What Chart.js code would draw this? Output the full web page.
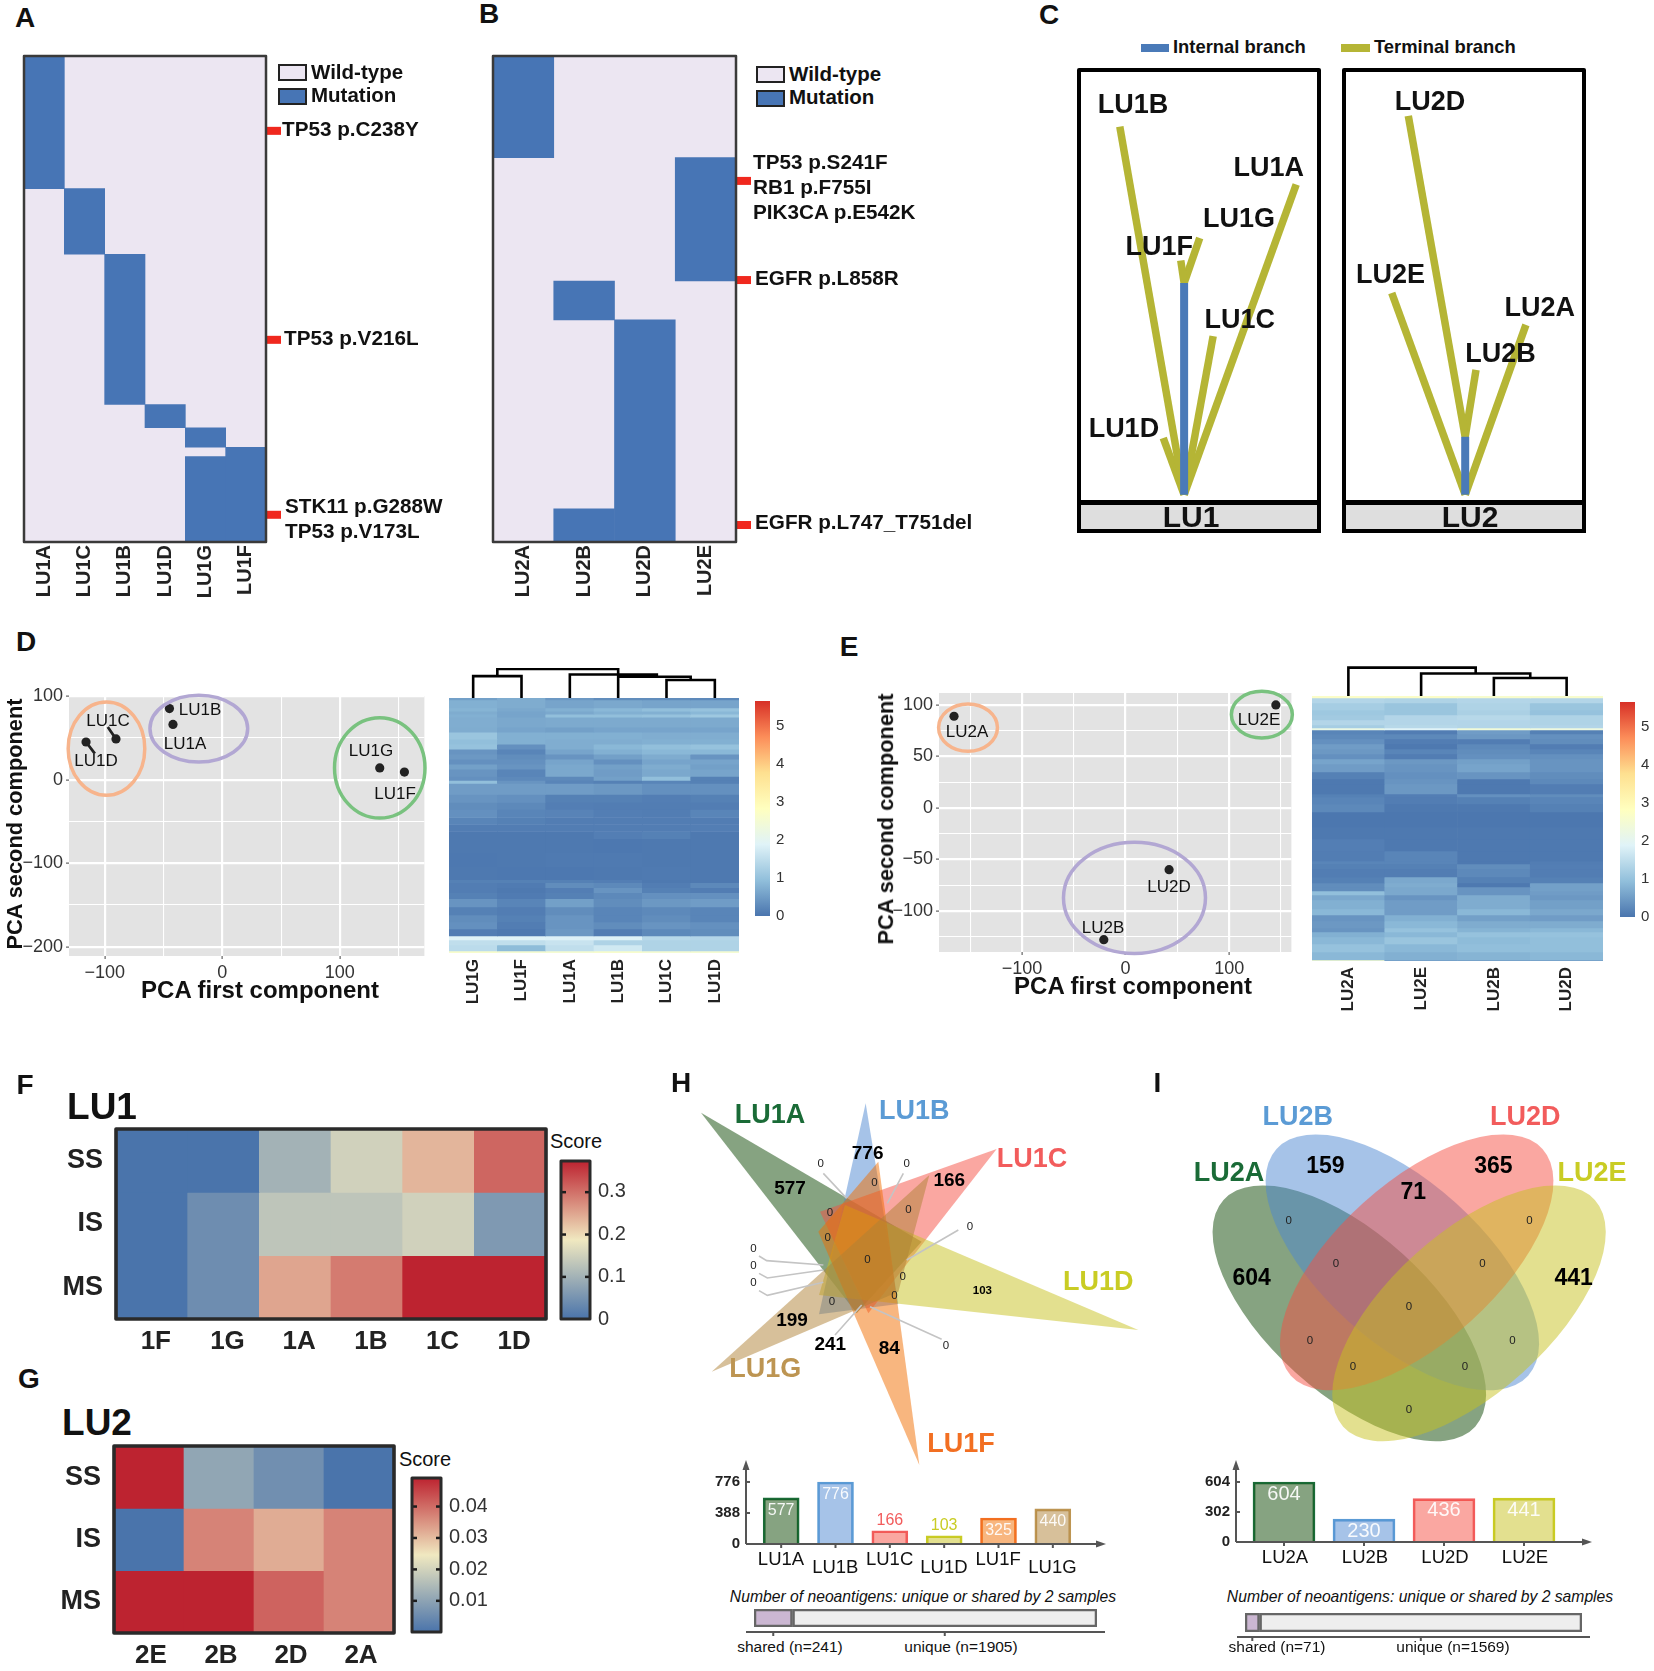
<!DOCTYPE html>
<html>
<head>
<meta charset="utf-8">
<title>Neoantigen panels</title>
<script src="https://cdn.jsdelivr.net/npm/chart.js@4/dist/chart.umd.js"></script>
<style>
  html, body { margin: 0; padding: 0; background: #fff; }
  #page { position: relative; width: 1654px; height: 1671px; overflow: hidden; font-family: "Liberation Sans", Arial, sans-serif; color: #111; }
  #page canvas { position: absolute; display: block; }
  .t { position: absolute; white-space: nowrap; line-height: 1; }
  .box { position: absolute; box-sizing: border-box; }
</style>
</head>
<body>
<div id="page"></div>
<script>
// ---------- data ----------
// A and B: mutation blocks, y is position in the mutation list (0 to 100)
const samplesA = ['LU1A', 'LU1C', 'LU1B', 'LU1D', 'LU1G', 'LU1F'];
const blocksA = [[0, 27.3], [27.3, 40.8], [40.8, 71.7], [71.7, 76.5], [76.5, 80.5], [80.5, 100]];
const blocksA2 = [null, null, null, null, [82.4, 100], null];
const markersA = [15.4, 58.4, 94.4];
const samplesB = ['LU2A', 'LU2B', 'LU2D', 'LU2E'];
const blocksB = [[0, 20.9], [46.3, 54.3], [54.3, 100], [20.9, 46.3]];
const blocksB2 = [null, [93.2, 100], null, null];
const markersB = [25.7, 46.1, 96.5];

// C: branches, x and y in percent of each box
const trunk1 = [[43.8, 1.7], [43.8, 50.7]];
const tips1 = [[17, 86.9], [35.1, 14.8], [90.5, 73.5], [55.9, 38.4]];
const tips1b = [[42.4, 55.9], [50.3, 61.1]];
const trunk2 = [[50.5, 1.7], [50.5, 15.1]];
const tips2 = [[19.9, 48.4], [75.8, 41]];
const tips2b = [[26.8, 89.4], [55, 30.6]];

// D and E: PCA
const pcaDx = [-45, -42, -90.5, -116, 134, 155];
const pcaDy = [85, 66, 48.6, 45, 14, 9];
const leadersD = [[-97.5, 63], [-90.5, 48.6], null, [-116, 45], [-108.5, 31]];
const ringsD = [[-98.6, 37, 32.6, 55.8, '#f7b48c'], [-20, 61, 41.6, 40, '#b2a7d3'], [134, 14, 38.5, 60, '#79c27f']];
const pcaEx = [-165.5, 145, 42, -21];
const pcaEy = [89, 100, -60, -128];
const ringsE = [[-152, 78, 28.4, 23, '#f7b48c'], [131.5, 90.6, 29.4, 22.6, '#79c27f'], [8.6, -87.4, 68.5, 54, '#b2a7d3']];
const gridDx = [-150, -100, -50, 0, 50, 100, 150];
const gridDy = [-200, -150, -100, -50, 0, 50, 100];
const gridEx = [-150, -100, -50, 0, 50, 100, 150];
const gridEy = [-125, -100, -75, -50, -25, 0, 25, 50, 75, 100];

// D and E: expression heatmaps, one row per band: height, then a value per sample
const heatNamesD = ['LU1G', 'LU1F', 'LU1A', 'LU1B', 'LU1C', 'LU1D'];
const heatBandsD = [
  [2, .55, .7, .45, .3, .3, .25], [8, .75, .7, .6, .65, .6, .6], [3, .8, .65, .75, .85, .95, 1], [3, .7, .6, .65, .75, .75, .85],
  [3, .75, .6, .95, .95, 1, 1.1], [10, .72, .65, .68, .68, .68, .68], [5, .7, .6, .55, .6, .6, .6], [7, 1.05, .75, .75, .75, .72, .72],
  [5, .95, .75, .72, .72, .75, .75], [5, 1, .35, .72, .85, .95, 1], [5, .4, .2, .6, .75, .85, .85], [5, .45, .3, .4, .55, .7, .4],
  [5, .35, .35, .6, .35, .6, .6], [5, .55, .4, .65, .55, .7, .55], [7, .4, .2, .65, .5, .65, .6], [4, .35, .25, .25, .55, .95, .15],
  [3, .95, .4, .2, .15, .2, .15], [11, .5, .5, .5, .45, .35, .35], [8, .4, .35, .15, .15, .12, .15], [7, .3, .25, .12, .1, .1, .1],
  [8, .35, .2, .18, .12, .1, .2], [7, .2, .15, .1, .1, .1, .1], [7, .1, .1, .1, .1, .1, .12], [7, .05, .05, .05, .12, .15, .05],
  [14, .05, .05, .05, .04, .05, .05], [14, .04, .05, .06, .07, .05, .05], [13, .05, .04, .04, .05, .06, .05], [3, .15, .15, .15, .12, .05, .05],
  [5, .1, .08, .3, .25, .1, .25], [5, .1, .05, .12, .4, .15, .1], [6, .15, .08, .15, .25, .35, .35], [8, .4, .2, .55, .3, .45, .5],
  [8, .15, .1, .3, .2, .25, .2], [7, .3, .15, .4, .2, .3, .2], [7, .35, .1, .4, .3, .4, .35], [7, .1, .05, .45, .1, .25, .3],
  [4, 1.9, 1.9, 1.85, 1.85, 1.4, 1.35], [5, 1.5, 1.5, 1.6, 1.3, 1.3, 1.3], [6, 1.45, .9, 1.5, 1.7, 1.3, 1.3], [2, 2.6, 2.5, 2.5, 2.6, 2.5, 2.5]
];
const heatNamesE = ['LU2A', 'LU2E', 'LU2B', 'LU2D'];
const heatBandsE = [
  [2, 2.7, 2.7, 2.6, 2.6], [5, 1.35, 1.3, 1.35, 1.35], [7, 1.2, 1.05, 1.3, 1.05], [5, 1.1, 1.05, 1.25, 1], [5, 1.15, 1.35, 1.4, 1.3],
  [5, 1.35, 1.35, 1.35, 1.3], [3, 1.2, 1.4, 1.35, 1.35], [2, 2.2, 1.9, 2.4, 2.3], [4, .2, .1, .5, .15], [5, .25, .25, .45, .35],
  [5, .35, .1, .1, .3], [5, .5, .05, .25, .1], [5, .45, .2, .3, .2], [5, .35, .1, .35, .35], [5, .6, .45, .55, .4], [8, .5, .4, .6, .4],
  [7, .15, .35, .4, .3], [5, .05, .4, .05, .25], [10, .05, .45, .05, .1], [3, .15, .12, .35, .3], [7, .2, .1, .15, .2], [8, .25, .05, .05, .15],
  [15, .03, .03, .03, .03], [12, .05, .05, .05, .05], [12, .12, .05, .05, .05], [10, .1, .2, .05, .05], [3, .2, .2, .05, .1], [5, .15, .15, .3, .12],
  [8, .1, .1, .25, .1], [6, .15, .65, .15, .15], [4, .3, .7, .05, .55], [4, .3, .65, .4, .55], [4, .95, .65, .4, .5], [5, .65, .4, .7, .45],
  [9, .75, .5, .7, .55], [6, .85, .5, .85, .65], [6, .4, .75, .55, .5], [7, .45, .85, .7, .7], [4, .4, 1, .8, .85], [5, .75, .85, 1, 1],
  [7, .85, 1.05, .9, .95], [8, 1, .85, .95, .95], [8, .85, .75, .8, .85], [1, 2.6, .5, .5, .5]
];
const heatMax = 5.66;
const heatTicks = [0, 1, 2, 3, 4, 5];
const heatStops = ['#4a75ae', '#91bfdb', '#e0f3f8', '#ffffbf', '#fee090', '#fc8d59', '#d73027'];

// dendrograms, x in columns and y in height; null breaks the line
const dendroD = [[.5, 0], [.5, 22.6], [1.5, 22.6], [1.5, 0], null, [2.5, 0], [2.5, 24.3], [3.5, 24.3], [3.5, 0], null, [4.5, 0], [4.5, 18.6], [5.5, 18.6], [5.5, 0], null,
  [3.5, 24.3], [4.3, 24.3], null, [3.5, 22], [5, 22], [5, 18.6], null, [1, 22.6], [1, 30], [3.5, 30], [3.5, 24.3]];
const dendroE = [[.5, 0], [.5, 29.3], [2.25, 29.3], [2.25, 23.3], null, [1.5, 0], [1.5, 23.3], [3, 23.3], [3, 18.6], null, [2.5, 0], [2.5, 18.6], [3.5, 18.6], [3.5, 0]];

// F and G: scores
const scoreRows = ['SS', 'IS', 'MS'];
const scoreNamesF = ['1F', '1G', '1A', '1B', '1C', '1D'];
const scoreF = [[0, 0, .1, .15, .235, .31], [0, .04, .13, .13, .15, .06], [0, .04, .25, .29, .373, .373]];
const scoreMaxF = .373;
const scoreTicksF = [0, .1, .2, .3];
const scoreNamesG = ['2E', '2B', '2D', '2A'];
const scoreG = [[.049, .0105, .0058, 0], [0, .037, .032, .037], [.049, .049, .041, .037]];
const scoreMaxG = .049;
const scoreTicksG = [.01, .02, .03, .04];
const scoreStops = ['#4a74ab', '#f0e8c0', '#bd2330'];

// H and I: neoantigen counts
const neoNamesH = ['LU1A', 'LU1B', 'LU1C', 'LU1D', 'LU1F', 'LU1G'];
const neoCountsH = [577, 776, 166, 103, 325, 440];
const neoTicksH = [0, 388, 776];
const neoNamesI = ['LU2A', 'LU2B', 'LU2D', 'LU2E'];
const neoCountsI = [604, 230, 436, 441];
const neoTicksI = [0, 302, 604];
const sharedH = 241, uniqueH = 1905;
const sharedI = 71, uniqueI = 1569;

// Venn shapes, in the units of the drawing
const trianglesH = [
  [[153, 188], [815, 575], [620, 790]],
  [[647, 160], [745, 762], [507, 793]],
  [[1040, 297], [510, 485], [655, 790]],
  [[1465, 840], [585, 465], [507, 735]],
  [[808, 1245], [685, 335], [505, 545]],
  [[185, 965], [838, 375], [745, 725]]
];
const leadersH = [[520, 370], [590, 445], null, [760, 370], [712, 460], null, [925, 540], [770, 630], null,
  [327, 618], [350, 632], [520, 645], null, [327, 670], [352, 684], [520, 660], null, [327, 722], [352, 736], [520, 697], null,
  [875, 868], [660, 770], null, [555, 855], [635, 765]];
const ellipsesI = [[598, 790, 42], [757, 637, 42], [800, 637, -42], [957, 790, -42]];
const ellipseAxes = [508, 240];
const tintsH = ['rgba(13,72,4,.5)', 'rgba(77,135,209,.5)', 'rgba(245,79,67,.5)', 'rgba(199,193,31,.5)', 'rgba(241,109,0,.5)', 'rgba(175,129,53,.5)'];
const linesH = ['#1a6b37', '#5b9bd5', '#f25c5c', '#c9cc24', '#f26f22', '#bd9552'];
const tintsI = [tintsH[0], tintsH[1], tintsH[2], tintsH[3]];
const linesI = [linesH[0], linesH[1], linesH[2], linesH[3]];

// ---------- helpers ----------
const page = document.getElementById('page');
const FONT = '"Liberation Sans", Arial, sans-serif';
Chart.defaults.font.family = FONT;
Chart.defaults.animation = false;

function txt(s, x, y, size, o) {   // x,y is the text centre unless left is set
  o = o || {};
  const d = document.createElement('div');
  d.className = 't';
  d.textContent = s;
  d.style.left = x + 'px';
  d.style.top = y + 'px';
  d.style.fontSize = size + 'px';
  d.style.fontWeight = o.bold ? 'bold' : 'normal';
  if (o.italic) d.style.fontStyle = 'italic';
  d.style.color = o.color || '#111';
  d.style.transform = (o.left ? 'translateY(-50%)' : 'translate(-50%,-50%)') + (o.rot ? ' rotate(' + o.rot + 'deg)' : '');
  page.appendChild(d);
}
function box(x, y, w, h, css) {
  const d = document.createElement('div');
  d.className = 'box';
  d.style.cssText = 'left:' + x + 'px;top:' + y + 'px;width:' + w + 'px;height:' + h + 'px;' + css;
  page.appendChild(d);
}
function hidden(extra) {
  return Object.assign({ ticks: { display: false }, grid: { display: false }, border: { display: false } }, extra);
}
// makes a chart whose plot area lands exactly on rect; m is the room kept round it for labels
function plot(rect, m, type, datasets, xAxis, yAxis, pluginOpts, extra) {
  const c = document.createElement('canvas');
  const w = rect[2] + m.l + m.r, h = rect[3] + m.t + m.b;
  c.width = w; c.height = h;
  c.style.left = (rect[0] - m.l) + 'px';
  c.style.top = (rect[1] - m.t) + 'px';
  c.style.width = w + 'px';
  c.style.height = h + 'px';
  page.appendChild(c);
  const yRight = yAxis.position === 'right';
  xAxis.afterFit = s => { s.height = m.b; s.paddingLeft = s.paddingRight = s.paddingTop = s.paddingBottom = 0; };
  yAxis.afterFit = s => { s.width = yRight ? m.r : m.l; s.paddingLeft = s.paddingRight = s.paddingTop = s.paddingBottom = 0; };
  return new Chart(c, {
    type: type,
    data: { labels: (extra && extra.labels) || undefined, datasets: datasets },
    options: Object.assign({
      responsive: false,
      devicePixelRatio: 1,
      layout: { padding: { top: m.t, right: yRight ? 0 : m.r, left: yRight ? m.l : 0, bottom: 0 } },
      scales: { x: xAxis, y: yAxis },
      plugins: Object.assign({ legend: { display: false }, tooltip: { enabled: false } }, pluginOpts)
    }, extra && extra.options)
  });
}
function toPts(list) {
  return list.map(p => p ? { x: p[0], y: p[1] } : { x: null, y: null });
}
function lineSet(list, color, width, more) {
  return Object.assign({ type: 'scatter', data: toPts(list), showLine: true, pointRadius: 0, borderColor: color, borderWidth: width, fill: false, tension: 0 }, more);
}
function hex(c) { return [parseInt(c.slice(1, 3), 16), parseInt(c.slice(3, 5), 16), parseInt(c.slice(5, 7), 16)]; }
function ramp(stops, t) {
  t = Math.max(0, Math.min(1, t)) * (stops.length - 1);
  const i = Math.min(Math.floor(t), stops.length - 2), f = t - i;
  const a = hex(stops[i]), b = hex(stops[i + 1]);
  return 'rgb(' + a.map((v, k) => Math.round(v + (b[k] - v) * f)).join(',') + ')';
}
function gradientFill(stops) {
  return ctx => {
    const a = ctx.chart.chartArea;
    if (!a) return stops[0];
    const g = ctx.chart.ctx.createLinearGradient(0, a.bottom, 0, a.top);
    stops.forEach((s, i) => g.addColorStop(i / (stops.length - 1), s));
    return g;
  };
}

// plot background, frame, side markers, little stubs on colour bars
Chart.register({
  id: 'paintArea',
  beforeDraw(c, a, o) {
    if (!o.bg) return;
    c.ctx.fillStyle = o.bg;
    const r = c.chartArea;
    c.ctx.fillRect(r.left, r.top, r.width, r.height);
  },
  afterDraw(c, a, o) {
    const r = c.chartArea, g = c.ctx;
    if (o.markers) {
      g.fillStyle = '#f0281e';
      o.markers.forEach(v => g.fillRect(r.right, c.scales.y.getPixelForValue(v) - 4, 15, 8));
    }
    if (o.stubs) {
      g.fillStyle = '#1c1c1c';
      o.stubs.forEach(v => {
        const y = c.scales.y.getPixelForValue(v);
        g.fillRect(r.left, y - 1, 5, 2.5);
        g.fillRect(r.right - 5, y - 1, 5, 2.5);
      });
    }
    if (o.stroke) {
      g.strokeStyle = o.stroke;
      g.lineWidth = o.width || 2;
      g.lineJoin = 'round';
      g.strokeRect(r.left, r.top, r.width, r.height);
    }
  }
});
// ellipses through the chart's scales
Chart.register({
  id: 'rings',
  beforeDatasetsDraw(c, a, o) {
    if (!o.items || o.above) return;
    drawRings(c, o);
  },
  afterDatasetsDraw(c, a, o) {
    if (!o.items || !o.above) return;
    drawRings(c, o);
  }
});
function drawRings(c, o) {
  const g = c.ctx, X = c.scales.x, Y = c.scales.y;
  o.items.forEach(it => {
    const cx = X.getPixelForValue(it.x), cy = Y.getPixelForValue(it.y);
    const rx = Math.abs(X.getPixelForValue(it.x + it.rx) - cx), ry = Math.abs(Y.getPixelForValue(it.y + it.ry) - cy);
    g.beginPath();
    g.ellipse(cx, cy, rx, ry, (it.angle || 0) * Math.PI / 180, 0, Math.PI * 2);
    if (it.tint) { g.fillStyle = it.tint; g.fill(); }
    if (it.edge) { g.strokeStyle = it.edge; g.lineWidth = 3.5; g.stroke(); }
  });
}
// the arrow axes and value labels on the count bars
Chart.register({
  id: 'countAxes',
  afterDatasetsDraw(c, a, o) {
    if (!o.gapL) return;
    const g = c.ctx, r = c.chartArea, x0 = r.left - o.gapL, x1 = r.right + o.gapR;
    g.strokeStyle = g.fillStyle = '#555';
    g.lineWidth = 2;
    g.beginPath();
    g.moveTo(x0, r.bottom); g.lineTo(x0, r.top + 4);
    g.moveTo(x0, r.bottom); g.lineTo(x1 - 4, r.bottom);
    g.stroke();
    g.beginPath(); g.moveTo(x0, r.top - 2); g.lineTo(x0 - 3.5, r.top + 8); g.lineTo(x0 + 3.5, r.top + 8); g.fill();
    g.beginPath(); g.moveTo(x1 + 2, r.bottom); g.lineTo(x1 - 8, r.bottom - 3.5); g.lineTo(x1 - 8, r.bottom + 3.5); g.fill();
    c.scales.y.ticks.forEach(t => { if (t.value) { const y = c.scales.y.getPixelForValue(t.value); g.fillRect(x0, y - 1, 4, 2); } });
    c.getDatasetMeta(0).data.forEach((bar, i) => {
      g.fillStyle = '#555';
      g.fillRect(bar.x - 1, r.bottom, 2, 4);
      const v = c.data.datasets[0].data[i];
      const inside = v > o.above;
      g.font = o.size + 'px ' + FONT;
      g.textAlign = 'center';
      g.textBaseline = 'middle';
      g.fillStyle = inside ? 'rgba(255,255,255,.92)' : c.data.datasets[0].borderColor[i];
      g.fillText(String(v), bar.x, bar.y + (inside ? o.inset : -10));
    });
  }
});
Chart.register({
  id: 'stackLine',
  afterDraw(c, a, o) {
    if (!o.gap) return;
    const g = c.ctx, r = c.chartArea, y = r.bottom + 4;
    g.fillStyle = '#555';
    g.fillRect(r.left - 8, y, o.right + 8, 2);
    o.stubs.forEach(v => g.fillRect(c.scales.x.getPixelForValue(v) - 1, y, 2, 5));
  }
});

// ---------- A and B ----------
const BG = '#ece6f2', BLUE = '#4775b5';
function mutationPanel(rect, names, first, second, markers) {
  const sets = [first, second].map(d => ({ data: d, backgroundColor: BLUE, grouped: false, barPercentage: 1, categoryPercentage: 1, borderWidth: 0 }));
  plot(rect, { l: 3, r: 20, t: 3, b: 62 }, 'bar', sets,
    { type: 'category', grid: { display: false, drawTicks: false }, border: { display: false },
      ticks: { autoSkip: false, minRotation: 90, maxRotation: 90, padding: 3, color: '#222', font: { size: 20, weight: 'bold' } } },
    hidden({ type: 'linear', min: 0, max: 100, reverse: true }),
    { paintArea: { bg: BG, stroke: '#3a3a3a', width: 2.5, markers: markers } },
    { labels: names });
}
mutationPanel([24, 56, 242, 486], samplesA, blocksA, blocksA2, markersA);
mutationPanel([493, 56, 243, 486], samplesB, blocksB, blocksB2, markersB);

txt('A', 25, 18, 28, { bold: true });
txt('B', 489, 14, 28, { bold: true });
function mutLegend(x, y) {
  box(x, y, 29, 17, 'background:' + BG + ';border:2.5px solid #222;');
  box(x, y + 24, 29, 17, 'background:' + BLUE + ';border:2.5px solid #222;');
  txt('Wild-type', x + 33, y + 8, 20.5, { bold: true, left: true });
  txt('Mutation', x + 33, y + 31, 20.5, { bold: true, left: true });
}
mutLegend(278, 64);
mutLegend(756, 66);
txt('TP53 p.C238Y', 282, 129, 20.7, { bold: true, left: true });
txt('TP53 p.V216L', 284, 338, 20.7, { bold: true, left: true });
txt('STK11 p.G288W', 285, 506, 20.7, { bold: true, left: true });
txt('TP53 p.V173L', 285, 531, 20.7, { bold: true, left: true });
txt('TP53 p.S241F', 753, 162, 20.7, { bold: true, left: true });
txt('RB1 p.F755I', 753, 187, 20.7, { bold: true, left: true });
txt('PIK3CA p.E542K', 753, 212, 20.7, { bold: true, left: true });
txt('EGFR p.L858R', 755, 278, 20.7, { bold: true, left: true });
txt('EGFR p.L747_T751del', 755, 522, 20.7, { bold: true, left: true });

// ---------- C ----------
const OLIVE = '#b5b535', TRUNK = '#4a7ab8';
function treePanel(rect, trunk, rootTips, topTips) {
  const root = trunk[0], top = trunk[1];
  const sets = [lineSet(trunk, TRUNK, 8)];
  rootTips.forEach(t => sets.push(lineSet([root, t], OLIVE, 7.5)));
  topTips.forEach(t => sets.push(lineSet([top, t], OLIVE, 7.5)));
  plot(rect, { l: 3, r: 3, t: 3, b: 3 }, 'scatter', sets,
    hidden({ type: 'linear', min: 0, max: 100 }), hidden({ type: 'linear', min: 0, max: 100 }),
    { paintArea: { stroke: '#000', width: 4 } });
}
treePanel([1079, 70, 240, 432], trunk1, tips1, tips1b);
treePanel([1344, 70, 240, 432], trunk2, tips2, tips2b);
box(1077, 501, 244, 32, 'background:#dedede;border:4px solid #000;');
box(1342, 501, 244, 32, 'background:#dedede;border:4px solid #000;');
txt('LU1', 1191, 517, 30, { bold: true });
txt('LU2', 1470, 517, 30, { bold: true });
txt('C', 1049, 15, 28, { bold: true });
box(1141, 44, 28, 8, 'background:' + TRUNK + ';');
txt('Internal branch', 1173, 47, 18.4, { bold: true, left: true });
box(1341, 44, 29, 8, 'background:' + OLIVE + ';');
txt('Terminal branch', 1374, 47, 18.4, { bold: true, left: true });
[['LU1B', 317, 262], ['LU1A', 640, 422], ['LU1G', 569, 550], ['LU1F', 379, 620], ['LU1C', 571, 806], ['LU1D', 295, 1082],
 ['LU2D', 1024, 256], ['LU2E', 930, 692], ['LU2A', 1285, 775], ['LU2B', 1192, 892]].forEach(l => {
  txt(l[0], 1000 + l[1] * .42, l[2] * .396, 27, { bold: true });
});

// ---------- D and E ----------
function pcaPanel(rect, range, xs, ys, gridX, gridY, xLabels, yLabels, majorX, majorY, rings, leaders) {
  const axis = (mn, mx, grid, labels, major) => ({
    type: 'linear', min: mn, max: mx, afterBuildTicks: s => { s.ticks = grid.map(v => ({ value: v })); },
    grid: { color: '#fff', lineWidth: c => (c.tick && major.includes(c.tick.value)) ? 2.2 : 1.1, drawTicks: true, tickLength: 3,
      tickColor: c => (c.tick && labels.includes(c.tick.value)) ? '#444' : 'rgba(0,0,0,0)', tickWidth: 1 },
    border: { display: false },
    ticks: { autoSkip: false, maxRotation: 0, padding: 3, color: '#333', font: { size: 18 },
      callback: v => labels.includes(v) ? String(v).replace('-', '\u2212') : '' }
  });
  const sets = [
    { type: 'scatter', data: xs.map((x, i) => ({ x: x, y: ys[i] })), pointRadius: 4.6, backgroundColor: '#222', borderWidth: 0 }
  ];
  if (leaders) sets.push(lineSet(leaders, '#222', 2.8));
  plot(rect, { l: 56, r: 3, t: 10, b: 30 }, 'scatter', sets,
    axis(range[0], range[1], gridX, xLabels, majorX), axis(range[2], range[3], gridY, yLabels, majorY),
    { paintArea: { bg: '#e3e3e3' },
      rings: { above: true, items: rings.map(r => ({ x: r[0], y: r[1], rx: r[2], ry: r[3], edge: r[4] })) } });
}
pcaPanel([69, 696, 357, 260], [-130.5, 172, -211, 100], pcaDx, pcaDy, gridDx, gridDy, [-100, 0, 100], [-200, -100, 0, 100],
  [-100, 0, 100], [-200, -100, 0, 100], ringsD, leadersD);
pcaPanel([939, 693, 354, 259], [-180, 160, -140, 111.6], pcaEx, pcaEy, gridEx, gridEy, [-100, 0, 100], [-100, -50, 0, 50, 100],
  [-100, 0, 100], [-100, -50, 0, 50, 100], ringsE);

function heatPanel(rect, names, bands, barRect, dendroRect, dendro) {
  const total = bands.reduce((a, b) => a + b[0], 0);
  const sets = bands.map(b => ({
    data: names.map(() => b[0]),
    backgroundColor: names.map((n, i) => ramp(heatStops, b[i + 1] / heatMax)),
    barPercentage: 1, categoryPercentage: 1, borderWidth: 0
  }));
  plot(rect, { l: 0, r: 0, t: 0, b: 56 }, 'bar', sets,
    { type: 'category', stacked: true, grid: { display: false, drawTicks: false }, border: { display: false },
      ticks: { autoSkip: false, minRotation: 90, maxRotation: 90, padding: 6, color: '#222', font: { size: 17, weight: 'bold' } } },
    hidden({ type: 'linear', stacked: true, min: 0, max: total, reverse: true }), {}, { labels: names });
  // colour bar with its own scale
  plot(barRect, { l: 0, r: 26, t: 6, b: 6 }, 'bar',
    [{ data: [[0, heatMax]], backgroundColor: gradientFill(heatStops), barPercentage: 1, categoryPercentage: 1, borderWidth: 0 }],
    hidden({ type: 'category' }),
    { type: 'linear', position: 'right', min: 0, max: heatMax, afterBuildTicks: s => { s.ticks = heatTicks.map(v => ({ value: v })); },
      grid: { display: false, drawTicks: false }, border: { display: false },
      ticks: { padding: 6, color: '#333', font: { size: 15 } } }, {}, { labels: [''] });
  // dendrogram
  plot(dendroRect, { l: 2, r: 2, t: 3, b: 0 }, 'scatter', [lineSet(dendro, '#000', 2.6, { borderCapStyle: 'square' })],
    hidden({ type: 'linear', min: 0, max: names.length }), hidden({ type: 'linear', min: 0, max: 31 }), {});
}
heatPanel([449, 698, 290, 255], heatNamesD, heatBandsD, [755, 701, 15, 215], [449, 668, 290, 30], dendroD);
heatPanel([1312, 696, 291, 265], heatNamesE, heatBandsE, [1620, 702, 15, 215], [1312, 666, 291, 30], dendroE);

txt('D', 26, 642, 28, { bold: true });
txt('E', 849, 647, 28, { bold: true });
txt('PCA first component', 260, 990, 24, { bold: true });
txt('PCA first component', 1133, 986, 24, { bold: true });
txt('PCA second component', 15, 824, 21.8, { bold: true, rot: -90 });
txt('PCA second component', 886, 819, 21.8, { bold: true, rot: -90 });
[['LU1C', 108, 720], ['LU1B', 200, 709], ['LU1A', 185, 743], ['LU1D', 96, 760], ['LU1G', 371, 750], ['LU1F', 395, 793],
 ['LU2A', 967, 731], ['LU2E', 1259, 719], ['LU2D', 1169, 886], ['LU2B', 1103, 927]].forEach(l => txt(l[0], l[1], l[2], 17));

// ---------- F and G ----------
function scorePanel(rect, names, values, max, ticks, barRect, nudge) {
  const sets = values.map(row => ({
    data: names.map(() => 1),
    backgroundColor: row.map(v => ramp(scoreStops, v / max)),
    barPercentage: 1, categoryPercentage: 1, borderWidth: 0
  }));
  plot(rect, { l: 62, r: 3, t: 3, b: 36 }, 'bar', sets,
    { type: 'category', stacked: true, grid: { display: false, drawTicks: false }, border: { display: false },
      ticks: { maxRotation: 0, autoSkip: false, padding: 7, labelOffset: nudge, color: '#222', font: { size: 26, weight: 'bold' } } },
    { type: 'linear', stacked: true, min: 0, max: 3, reverse: true,
      afterBuildTicks: s => { s.ticks = scoreRows.map((r, i) => ({ value: i + .5 })); },
      grid: { display: false, drawTicks: false }, border: { display: false },
      ticks: { padding: 13, color: '#222', font: { size: 27, weight: 'bold' }, callback: v => scoreRows[Math.floor(v)] } },
    { paintArea: { stroke: '#2a2a2a', width: 3.6 } }, { labels: names });
  plot(barRect, { l: 3, r: 46, t: 3, b: 10 }, 'bar',
    [{ data: [[0, max]], backgroundColor: gradientFill(scoreStops), barPercentage: 1, categoryPercentage: 1, borderWidth: 0 }],
    hidden({ type: 'category' }),
    { type: 'linear', position: 'right', min: 0, max: max, afterBuildTicks: s => { s.ticks = ticks.map(v => ({ value: v })); },
      grid: { display: false, drawTicks: false }, border: { display: false },
      ticks: { padding: 8, color: '#333', font: { size: 20 } } },
    { paintArea: { stroke: '#2a2a2a', width: 3, stubs: ticks.filter(v => v > 0) } }, { labels: [''] });
}
scorePanel([116, 1129, 430, 190], scoreNamesF, scoreF, scoreMaxF, scoreTicksF, [561, 1161, 29, 158], 4);
scorePanel([114, 1446, 280, 187], scoreNamesG, scoreG, scoreMaxG, scoreTicksG, [412, 1478, 29, 154], 2);
txt('F', 25, 1085, 28, { bold: true });
txt('G', 29, 1379, 28, { bold: true });
txt('LU1', 102, 1106, 37, { bold: true });
txt('LU2', 97, 1422, 37, { bold: true });
txt('Score', 576, 1141, 20);
txt('Score', 425, 1459, 20);

// ---------- H ----------
const vennAxis = (a, b, rev) => hidden({ type: 'linear', min: a, max: b, reverse: !!rev });
const triSets = trianglesH.map((t, i) => lineSet(t.concat([t[0]]), 'rgba(0,0,0,0)', 0, { fill: 'shape', backgroundColor: tintsH[i], order: 6 - i }));
triSets.unshift(lineSet(leadersH, '#c4c4c4', 1.6, { order: 0 }));
plot([650, 1050, 520, 420], { l: 0, r: 0, t: 0, b: 0 }, 'scatter', triSets, vennAxis(0, 1560), vennAxis(0, 1260, true), {});
const vh = (s, x, y, size, o) => txt(s, 650 + x / 3, 1050 + y / 3, size, o);
vh('H', 93, 100, 28, { bold: true });
[['LU1A', 360, 192, 0], ['LU1B', 793, 180, 1], ['LU1C', 1146, 325, 2], ['LU1D', 1345, 692, 3], ['LU1F', 933, 1178, 4], ['LU1G', 346, 955, 5]]
  .forEach(l => vh(l[0], l[1], l[2], 27, { bold: true, color: linesH[l[3]] }));
[['776', 653, 306], ['577', 420, 412], ['166', 898, 386], ['199', 426, 806], ['241', 541, 880], ['84', 718, 890]]
  .forEach(l => vh(l[0], l[1], l[2], 19, { bold: true, color: '#000' }));
vh('103', 997, 722, 11.5, { bold: true, color: '#000' });
[[512, 342], [770, 342], [960, 530], [310, 596], [310, 648], [310, 700], [888, 887], [673, 398], [775, 480], [540, 488],
 [533, 564], [652, 630], [758, 682], [733, 738], [546, 755]].forEach(p => vh('0', p[0], p[1], 11.5, { color: '#222' }));

// ---------- I ----------
plot([1150, 1050, 504, 420], { l: 0, r: 0, t: 0, b: 0 }, 'scatter', [{ data: [] }], vennAxis(0, 1512), vennAxis(0, 1260, true), {
  rings: { items: ellipsesI.map((e, i) => ({ x: e[0], y: e[1], rx: ellipseAxes[0], ry: ellipseAxes[1], angle: e[2], tint: tintsI[i] })) }
});
const vi = (s, x, y, size, o) => txt(s, 1150 + x / 3, 1050 + y / 3, size, o);
vi('I', 22, 100, 28, { bold: true });
[['LU2A', 237, 366, 0], ['LU2B', 443, 198, 1], ['LU2D', 1126, 198, 2], ['LU2E', 1326, 366, 3]]
  .forEach(l => vi(l[0], l[1], l[2], 27, { bold: true, color: linesI[l[3]] }));
[['159', 526, 345], ['365', 1030, 345], ['71', 790, 422], ['604', 305, 680], ['441', 1271, 680]]
  .forEach(l => vi(l[0], l[1], l[2], 23, { bold: true, color: '#000' }));
[[416, 512], [1138, 512], [558, 641], [997, 641], [777, 770], [480, 873], [1087, 873], [609, 951], [945, 951], [777, 1080]]
  .forEach(p => vi('0', p[0], p[1], 11.5, { color: '#222' }));

// ---------- count bars and shared/unique bars ----------
function countPanel(rect, names, counts, ticks, tints, edges, barWidth, o) {
  const top = ticks[ticks.length - 1] * o.headroom;
  plot(rect, { l: 50, r: 34, t: 6, b: 8 }, 'bar',
    [{ data: counts, backgroundColor: tints, borderColor: edges, borderWidth: 2, borderSkipped: 'bottom', barThickness: barWidth }],
    hidden({ type: 'category' }),
    { type: 'linear', min: 0, max: top, afterBuildTicks: s => { s.ticks = ticks.map(v => ({ value: v })); },
      grid: { display: false, drawTicks: false }, border: { display: false },
      ticks: { padding: o.tickPad, color: '#222', font: { size: 15, weight: 'bold' } } },
    { countAxes: { gapL: o.gapL, gapR: o.gapR, above: o.above, inset: o.inset, size: o.size } }, { labels: names });
}
countPanel([754, 1462, 326, 82], neoNamesH, neoCountsH, neoTicksH, tintsH, linesH, 36,
  { headroom: 1.322, tickPad: 14, gapL: 8, gapR: 24, above: 200, inset: 13, size: 16 });
countPanel([1244, 1462, 320, 80], neoNamesI, neoCountsI, neoTicksI, tintsI, linesI, 62,
  { headroom: 1.333, tickPad: 14, gapL: 8, gapR: 26, above: 100, inset: 12, size: 20 });
neoNamesH.forEach((n, i) => txt(n, 781 + i * 54.3, i % 2 ? 1567 : 1559, 18.5));
neoNamesI.forEach((n, i) => txt(n, 1285 + i * 80, 1557, 18.5));

function stackPanel(rect, shared, unique, lineLength) {
  const total = shared + unique;
  plot(rect, { l: 12, r: 14, t: 3, b: 10 }, 'bar', [
    { data: [shared], backgroundColor: '#cbb7d2', borderColor: '#666', borderWidth: 2.6, stack: 's', barPercentage: 1, categoryPercentage: 1, borderSkipped: false },
    { data: [unique], backgroundColor: '#eeeeee', borderColor: '#666', borderWidth: 2.6, stack: 's', barPercentage: 1, categoryPercentage: 1, borderSkipped: false }
  ], hidden({ type: 'linear', min: 0, max: total, stacked: true }), hidden({ type: 'category', stacked: true }),
  { stackLine: { gap: 4, right: lineLength, stubs: [shared / 2, shared + unique / 2] } },
  { labels: [''], options: { indexAxis: 'y' } });
}
stackPanel([754, 1609, 343, 18], sharedH, uniqueH, 351);
stackPanel([1245, 1613, 337, 19], sharedI, uniqueI, 345);
txt('Number of neoantigens: unique or shared by 2 samples', 923, 1597, 15.7, { italic: true });
txt('Number of neoantigens: unique or shared by 2 samples', 1420, 1597, 15.7, { italic: true });
txt('shared (n=' + sharedH + ')', 790, 1647, 15.5);
txt('unique (n=' + uniqueH + ')', 961, 1647, 15.5);
txt('shared (n=' + sharedI + ')', 1277, 1647, 15.5);
txt('unique (n=' + uniqueI + ')', 1453, 1647, 15.5);
</script>
</body>
</html>
